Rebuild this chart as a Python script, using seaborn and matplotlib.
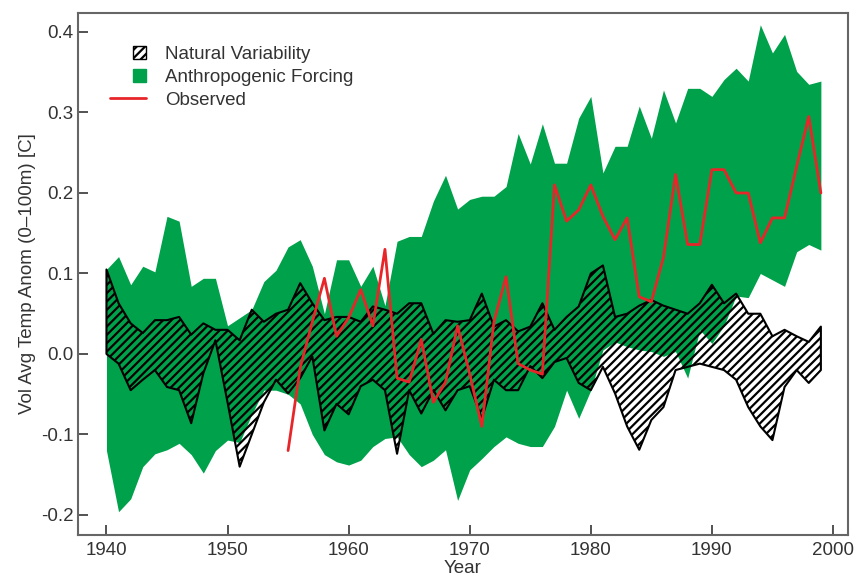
import pandas as pd
import matplotlib
matplotlib.use("Agg")
import matplotlib.pyplot as plt
import matplotlib.patches as mpatches
from matplotlib.lines import Line2D
from matplotlib.legend_handler import HandlerPatch
from matplotlib.ticker import FormatStrFormatter
import seaborn as sns

# data
years = list(range(1940, 2000))

anthro_hi = [0.105, 0.121, 0.086, 0.109, 0.102, 0.171, 0.165, 0.084, 0.094, 0.094,
             0.035, 0.045, 0.055, 0.090, 0.104, 0.133, 0.142, 0.109, 0.050, 0.117,
             0.117, 0.084, 0.109, 0.060, 0.140, 0.146, 0.146, 0.190, 0.222, 0.180,
             0.192, 0.196, 0.196, 0.208, 0.274, 0.236, 0.286, 0.237, 0.237, 0.293,
             0.320, 0.225, 0.258, 0.258, 0.308, 0.268, 0.328, 0.287, 0.330, 0.330,
             0.320, 0.341, 0.355, 0.339, 0.409, 0.374, 0.397, 0.351, 0.335, 0.339]

anthro_lo = [-0.120, -0.196, -0.180, -0.140, -0.124, -0.119, -0.111, -0.125, -0.148, -0.120,
             -0.107, -0.110, -0.075, -0.045, -0.045, -0.050, -0.062, -0.100, -0.125, -0.134,
             -0.138, -0.132, -0.115, -0.105, -0.103, -0.125, -0.140, -0.132, -0.119, -0.182,
             -0.144, -0.130, -0.115, -0.103, -0.111, -0.115, -0.115, -0.090, -0.045, -0.080,
             -0.045, 0.005, 0.015, 0.009, 0.005, 0.003, -0.003, 0.003, -0.030, 0.030,
             0.013, 0.035, 0.072, 0.070, 0.100, 0.092, 0.084, 0.127, 0.136, 0.129]

natural_hi = [0.105, 0.063, 0.038, 0.026, 0.042, 0.042, 0.046, 0.024, 0.038, 0.030,
              0.030, 0.017, 0.055, 0.040, 0.050, 0.055, 0.088, 0.063, 0.042, 0.046,
              0.046, 0.040, 0.059, 0.055, 0.050, 0.063, 0.063, 0.025, 0.042, 0.040,
              0.042, 0.075, 0.034, 0.042, 0.028, 0.034, 0.063, 0.030, 0.046, 0.059,
              0.100, 0.110, 0.046, 0.050, 0.060, 0.067, 0.060, 0.055, 0.050, 0.063,
              0.086, 0.063, 0.075, 0.050, 0.050, 0.022, 0.030, 0.022, 0.015, 0.034]

natural_lo = [0.000, -0.012, -0.045, -0.032, -0.020, -0.041, -0.045, -0.086, -0.024, 0.017,
              -0.060, -0.140, -0.100, -0.060, -0.032, -0.049, -0.030, -0.003, -0.095, -0.062,
              -0.075, -0.040, -0.032, -0.045, -0.124, -0.045, -0.074, -0.045, -0.070, -0.045,
              -0.040, -0.080, -0.032, -0.045, -0.045, -0.015, -0.030, -0.010, -0.005, -0.036,
              -0.045, -0.016, -0.049, -0.090, -0.119, -0.082, -0.066, -0.020, -0.016, -0.012,
              -0.016, -0.020, -0.032, -0.066, -0.090, -0.107, -0.041, -0.020, -0.036, -0.020]

obs_years = list(range(1955, 2000))
observed = [-0.120, -0.017, 0.040, 0.094, 0.022, 0.045, 0.080, 0.035, 0.130, -0.030,
            -0.035, 0.018, -0.060, -0.035, 0.035, -0.025, -0.090, 0.040, 0.096, -0.012,
            -0.020, -0.025, 0.210, 0.165, 0.179, 0.210, 0.171, 0.142, 0.169, 0.071,
            0.065, 0.120, 0.223, 0.136, 0.136, 0.229, 0.229, 0.200, 0.200, 0.138,
            0.169, 0.169, 0.233, 0.295, 0.200]

green = "#00a14b"
red = "#e8262a"
txt = "#333333"

sns.set_style("white")
plt.rcParams["font.family"] = ["Liberation Sans", "DejaVu Sans"]
plt.rcParams["hatch.linewidth"] = 1.6

fig = plt.figure(figsize=(8.57, 5.8), dpi=100)
ax = fig.add_axes([78 / 857, 45 / 580, 770 / 857, 522 / 580])

ax.fill_between(years, anthro_lo, anthro_hi, color=green, linewidth=0)
ax.fill_between(years, natural_lo, natural_hi, facecolor="none",
                edgecolor="black", hatch="////", linewidth=1.5)

obs = pd.DataFrame({"Year": obs_years, "Observed": observed})
sns.lineplot(data=obs, x="Year", y="Observed", color=red, linewidth=2.0, ax=ax)

ax.set_xlim(1937.65, 2001.24)
ax.set_ylim(-0.2249, 0.4236)
ax.set_xticks([1940, 1950, 1960, 1970, 1980, 1990, 2000])
ax.set_yticks([-0.2, -0.1, 0.0, 0.1, 0.2, 0.3, 0.4])
ax.yaxis.set_major_formatter(FormatStrFormatter("%.1f"))
ax.tick_params(bottom=True, left=True, top=False, right=False,
               direction="in", length=7, width=1.3, color="#444444",
               labelsize=13.5, labelcolor=txt)
ax.tick_params(axis="x", pad=5)
ax.tick_params(axis="y", pad=3)
for s in ax.spines.values():
    s.set_color("#666666")
    s.set_linewidth(1.5)

ax.set_xlabel("Year", fontsize=13.5, color=txt, labelpad=1)
ax.set_ylabel("Vol Avg Temp Anom (0\u2013100m) [C]", fontsize=13.5, color=txt, labelpad=4)


def square(legend, orig_handle, xdescent, ydescent, width, height, fontsize):
    s = height * 1.0
    return mpatches.Rectangle((-xdescent + width - s, -ydescent + (height - s) / 2), s, s)


handles = [mpatches.Patch(facecolor="white", edgecolor="black", hatch="////", linewidth=1),
           mpatches.Patch(facecolor=green, edgecolor=green),
           Line2D([], [], color=red, linewidth=2.0)]
labels = ["Natural Variability", "Anthropogenic Forcing", "Observed"]
leg = ax.legend(handles, labels, loc="upper left", bbox_to_anchor=(0.042, 0.937),
                frameon=False, fontsize=13.5, handlelength=1.9, handletextpad=1.0,
                labelspacing=0.3, borderaxespad=0, borderpad=0,
                handler_map={mpatches.Patch: HandlerPatch(patch_func=square)})
for t in leg.get_texts():
    t.set_color(txt)

fig.savefig("out.png", dpi=100)
